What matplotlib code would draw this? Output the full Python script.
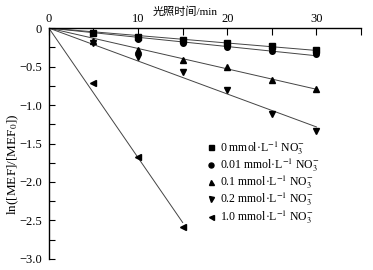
import numpy as np
import matplotlib
matplotlib.use("Agg")
import matplotlib.pyplot as plt
from matplotlib.ticker import MultipleLocator, FuncFormatter

plt.rcParams['font.family'] = ['Liberation Serif', 'Noto Sans CJK SC']
plt.rcParams['mathtext.fontset'] = 'stix'
plt.rcParams['axes.unicode_minus'] = True

# irradiation time (min) and ln([MEF]/[MEF0]) for each nitrate level
t_long = [5, 10, 15, 20, 25, 30]
t_short = [5, 10, 15]
y_0 = [-0.06, -0.12, -0.15, -0.20, -0.23, -0.285]
y_001 = [-0.07, -0.14, -0.195, -0.245, -0.30, -0.34]
y_01 = [-0.165, -0.28, -0.415, -0.50, -0.67, -0.79]
y_02 = [-0.20, -0.375, -0.575, -0.80, -1.12, -1.335]
y_10 = [-0.71, -1.67, -2.58]

labels = [
    r'0 mmol·L$^{-1}$ NO$_3^{-}$',
    r'0.01 mmol·L$^{-1}$ NO$_3^{-}$',
    r'0.1 mmol·L$^{-1}$ NO$_3^{-}$',
    r'0.2 mmol·L$^{-1}$ NO$_3^{-}$',
    r'1.0 mmol·L$^{-1}$ NO$_3^{-}$',
]
series = [(t_long, y_0, 's'), (t_long, y_001, 'o'), (t_long, y_01, '^'),
          (t_long, y_02, 'v'), (t_short, y_10, '<')]

fig = plt.figure(figsize=(3.73, 2.70), dpi=100)
ax = fig.add_axes([0.131, 0.041, 0.837, 0.855])

for (t, y, m), lab in zip(series, labels):
    t = np.array(t, float)
    y = np.array(y, float)
    # linear fit through the origin
    k = np.sum(t * y) / np.sum(t * t)
    xs = np.array([0, t[-1]])
    ax.plot(xs, k * xs, color='#444444', lw=0.7, zorder=1)
    ax.plot(t, y, linestyle='none', marker=m, color='black', ms=4, label=lab, zorder=2)

ax.set_xlim(0, 35)
ax.set_ylim(-3.0, 0)
ax.xaxis.tick_top()
ax.xaxis.set_label_position('top')
ax.spines['right'].set_visible(False)
ax.spines['bottom'].set_visible(False)
ax.spines['top'].set_linewidth(1.0)
ax.spines['left'].set_linewidth(1.0)

ax.xaxis.set_major_locator(MultipleLocator(5))
ax.xaxis.set_major_formatter(FuncFormatter(lambda v, p: f'{v:.0f}' if v % 10 == 0 and v < 35 else ''))
ax.yaxis.set_major_locator(MultipleLocator(0.5))
ax.yaxis.set_minor_locator(MultipleLocator(0.25))
ax.yaxis.set_major_formatter(FuncFormatter(lambda v, p: '0' if v == 0 else f'{v:.1f}'.replace('-', '\u2212')))
ax.tick_params(axis='x', direction='in', length=5, width=0.8, labelsize=9, pad=2)
ax.tick_params(axis='y', which='both', direction='in', length=4, width=0.8, labelsize=9, pad=5)

ax.set_xlabel('光照时间/min', fontsize=8)
ax.xaxis.set_label_coords(0.436, 1.055)
ax.set_ylabel(r'ln([MEF]/[MEF$_0$])', fontsize=9.5)
ax.yaxis.set_label_coords(-0.09, 0.41)

ax.legend(loc='upper left', bbox_to_anchor=(0.537, 0.506), bbox_transform=fig.transFigure,
          frameon=False, fontsize=8.5, handlelength=0.8, handletextpad=0.4,
          labelspacing=0.0, borderpad=0, markerscale=0.9)

fig.savefig('out.png', dpi=100)
